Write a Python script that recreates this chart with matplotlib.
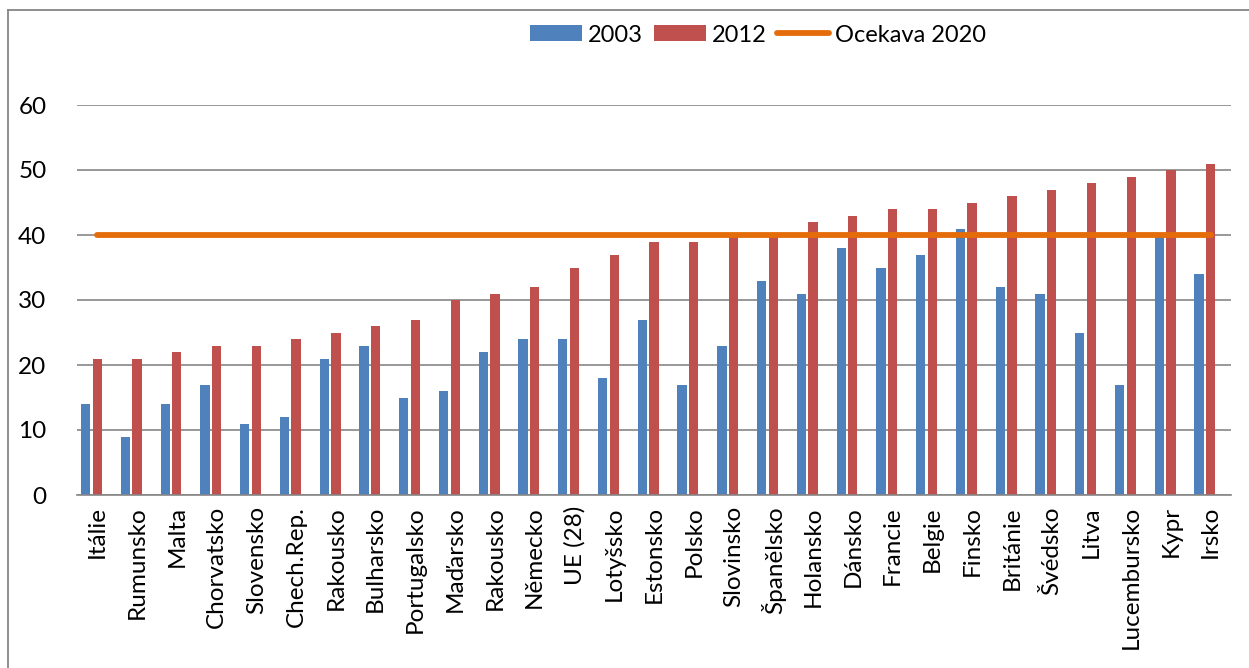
import matplotlib
matplotlib.use("Agg")
import matplotlib.pyplot as plt
from matplotlib.lines import Line2D
import numpy as np

plt.rcParams['font.family'] = ['Lato', 'DejaVu Sans']

countries = ["Itálie", "Rumunsko", "Malta", "Chorvatsko", "Slovensko", "Chech.Rep.",
             "Rakousko", "Bulharsko", "Portugalsko", "Maďarsko", "Rakousko", "Německo",
             "UE (28)", "Lotyšsko", "Estonsko", "Polsko", "Slovinsko", "Španělsko",
             "Holansko", "Dánsko", "Francie", "Belgie", "Finsko", "Británie", "Švédsko",
             "Litva", "Lucembursko", "Kypr", "Irsko"]
values_2003 = [14, 9, 14, 17, 11, 12, 21, 23, 15, 16, 22, 24, 24, 18, 27, 17, 23, 33,
               31, 38, 35, 37, 41, 32, 31, 25, 17, 40, 34]
values_2012 = [21, 21, 22, 23, 23, 24, 25, 26, 27, 30, 31, 32, 35, 37, 39, 39, 40, 40,
               42, 43, 44, 44, 45, 46, 47, 48, 49, 50, 51]
target_2020 = [40] * len(countries)
y_ticks = [0, 10, 20, 30, 40, 50, 60]

BLUE = "#4F81BD"
RED = "#C0504D"
ORANGE = "#E46C0A"
GRID = "#868686"

W, H = 1249, 668
fig = plt.figure(figsize=(W / 100, H / 100), dpi=100)

# outer chart frame (top and left edges)
fig.add_artist(Line2D([8 / W, 8 / W], [0, 1 - 10 / H], color=GRID, lw=1.3,
                      transform=fig.transFigure))
fig.add_artist(Line2D([8 / W, 1], [1 - 10 / H, 1 - 10 / H], color=GRID, lw=1.3,
                      transform=fig.transFigure))

ax = fig.add_axes([77 / W, 1 - 495 / H, (1231 - 77) / W, (495 - 105) / H])

x = np.arange(len(countries))
bw = 0.234
b1 = ax.bar(x - 0.293, values_2003, width=bw, color=BLUE, label="2003", zorder=3)
b2 = ax.bar(x, values_2012, width=bw, color=RED, label="2012", zorder=3)
ln, = ax.plot(x, target_2020, color=ORANGE, lw=4.2, solid_capstyle="round",
              label="Ocekava 2020", zorder=4)

ax.set_xlim(-0.51, len(countries) - 0.49)
ax.set_ylim(0, 60)
ax.set_yticks(y_ticks)
ax.yaxis.grid(True, color=GRID, lw=1.2)
ax.set_axisbelow(True)
for s in ["top", "right", "left"]:
    ax.spines[s].set_visible(False)
ax.spines["bottom"].set_color(GRID)
ax.spines["bottom"].set_linewidth(1.2)
ax.spines["bottom"].set_zorder(5)

ax.set_xticks(x)
ax.set_xticklabels(countries, rotation=90, fontsize=17.5)
ax.tick_params(axis="x", length=0, pad=8)
ax.tick_params(axis="y", length=0, pad=22, labelsize=17.5)

fig.legend([b1, b2, ln], ["2003", "2012", "Ocekava 2020"], loc="center",
           bbox_to_anchor=(758 / W, 1 - 35 / H), ncol=3, frameon=False,
           fontsize=17, handlelength=2.2, handleheight=0.64, handletextpad=0.25,
           columnspacing=0.45, borderpad=0)

fig.savefig("out.png", dpi=100, facecolor="white")
